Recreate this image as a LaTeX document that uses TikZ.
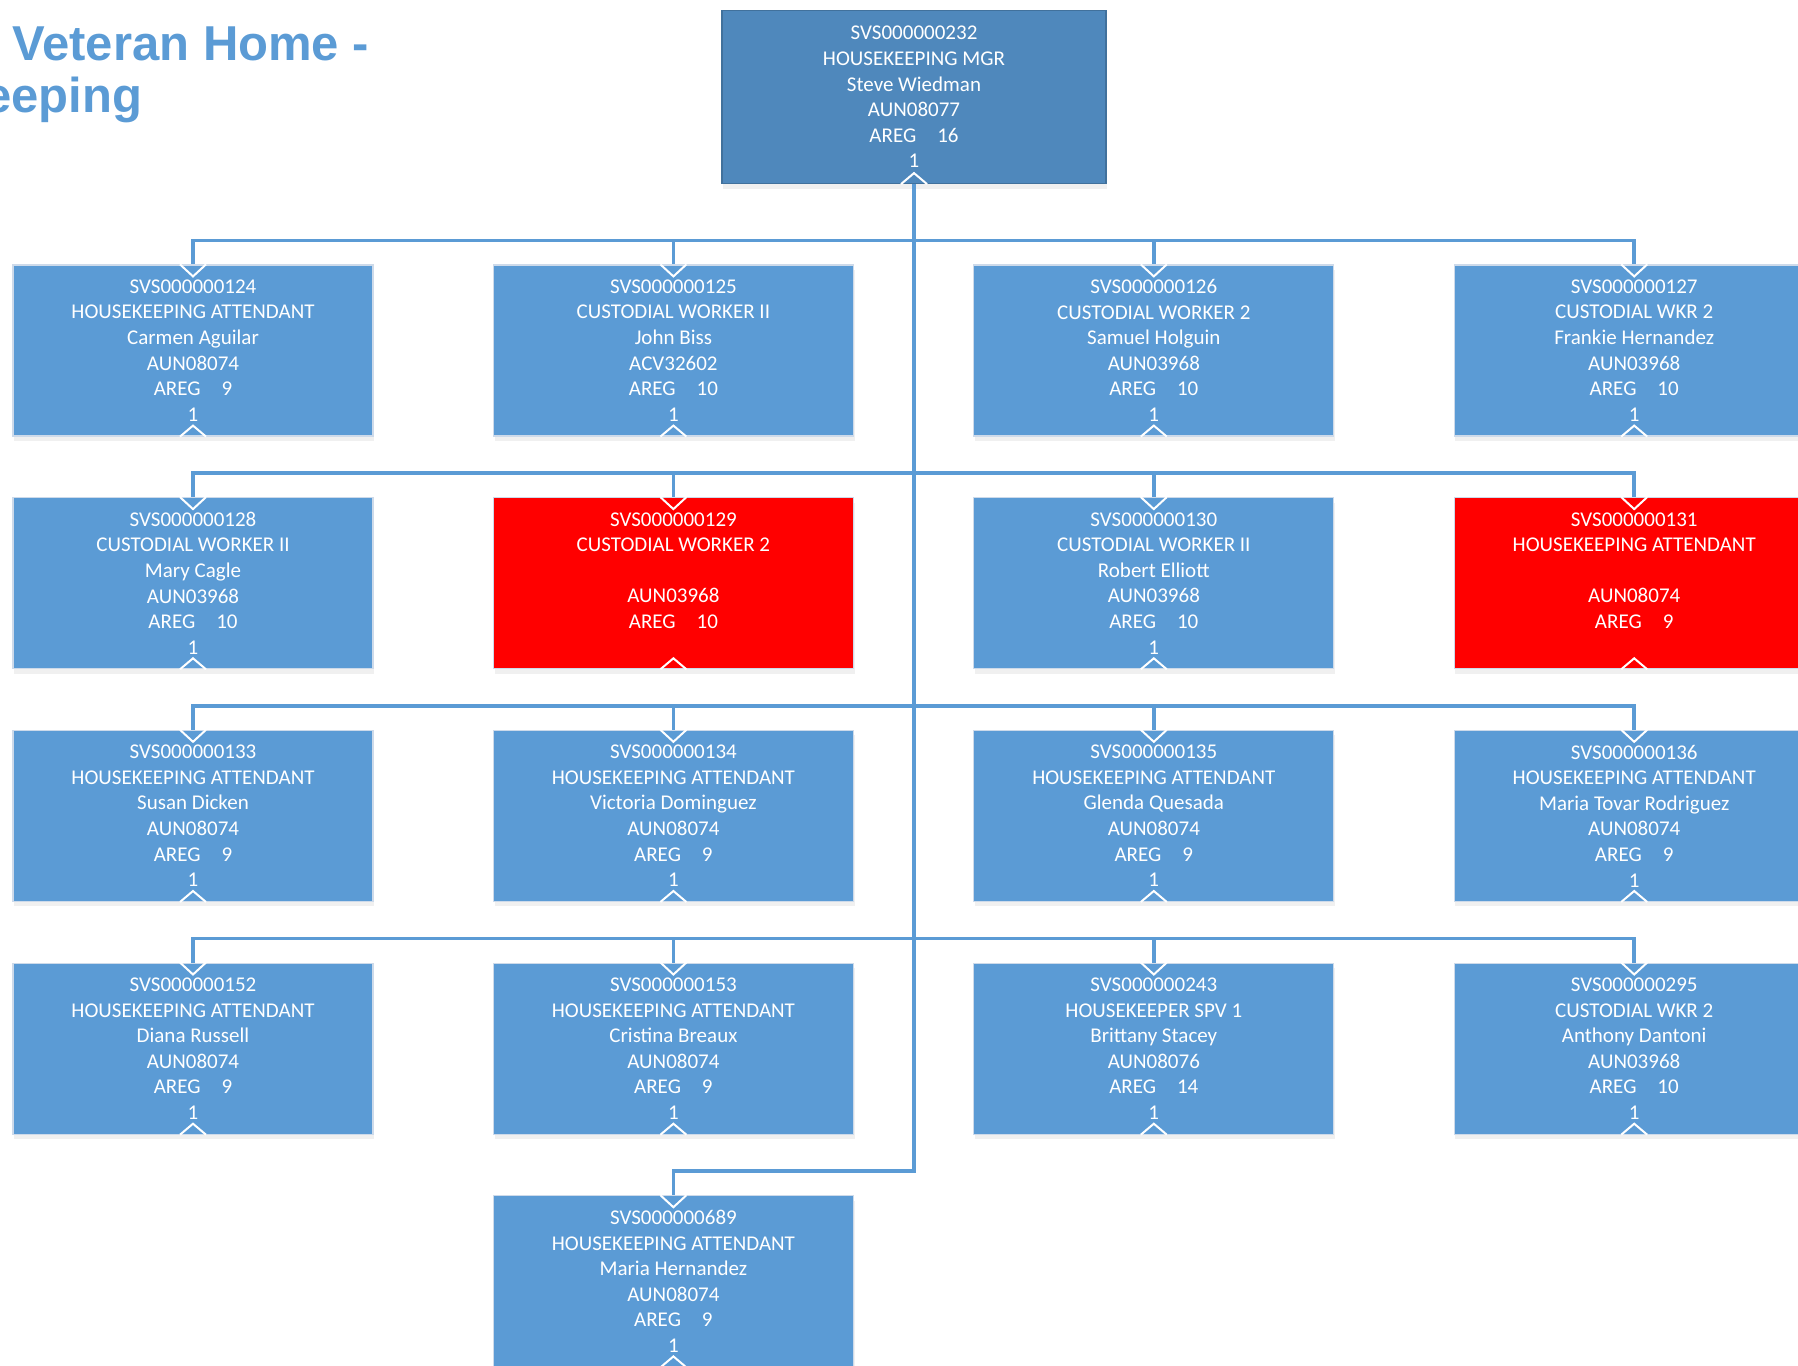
\documentclass[tikz,border=0pt]{standalone}
\usepackage{fontspec}
\setmainfont{Carlito}
\newfontfamily\titlefont{Liberation Sans}
\usepackage{xcolor}
\usetikzlibrary{positioning,calc,shadows}

\definecolor{boxblue}{RGB}{91,155,213}
\definecolor{mgrblue}{RGB}{79,136,188}
\definecolor{mgredge}{RGB}{65,113,156}
\definecolor{boxedge}{RGB}{205,218,234}
\definecolor{vacantred}{RGB}{255,0,0}

\tikzset{
  post/.style={rectangle, fill=boxblue, draw=boxedge, line width=0.6pt,
    minimum width=180pt, minimum height=85.5pt, inner sep=0pt,
    align=center, text=white, font=\fontsize{10.5}{12.8}\selectfont,
    drop shadow={shadow xshift=0.6pt,shadow yshift=-2.5pt,opacity=0.12,fill=black!50}},
  vacant/.style={post, fill=vacantred},
  manager/.style={post, fill=mgrblue, draw=mgredge, minimum width=192pt, minimum height=86.5pt},
  heading/.style={anchor=base west, inner sep=0pt, text=boxblue,
    font=\titlefont\bfseries\fontsize{24.5}{25}\selectfont},
  link/.style={draw=boxblue, line width=1.75pt},
  notch/.style={draw=white, line width=1pt}
}
\newcommand{\areg}[1]{AREG\hspace{1em}#1}

\begin{document}
\begin{tikzpicture}[x=0.5pt,y=-0.5pt,node distance=116.35pt and 240.2pt,on grid]
  \useasboundingbox (0,0) rectangle (1798,1365);
  % title
  \node[heading] (title1) at (12,60) {Veteran Home -};
  \node[heading] (title2) at (-16,112) {eeping};
  % manager
  \node[manager] (mgr) at (914,97) {SVS000000232\\HOUSEKEEPING MGR\\Steve Wiedman\\AUN08077\\\areg{16}\\1};
  % row 1
  \node[post] (c11) at (193,350.5) {SVS000000124\\HOUSEKEEPING ATTENDANT\\Carmen Aguilar\\AUN08074\\\areg{9}\\1};
  \node[post] (c12) [right=of c11] {SVS000000125\\CUSTODIAL WORKER II\\John Biss\\ACV32602\\\areg{10}\\1};
  \node[post] (c13) [right=of c12] {SVS000000126\\CUSTODIAL WORKER 2\\Samuel Holguin\\AUN03968\\\areg{10}\\1};
  \node[post] (c14) [right=of c13] {SVS000000127\\CUSTODIAL WKR 2\\Frankie Hernandez\\AUN03968\\\areg{10}\\1};
  % row 2
  \node[post] (c21) [below=of c11] {SVS000000128\\CUSTODIAL WORKER II\\Mary Cagle\\AUN03968\\\areg{10}\\1};
  \node[vacant] (c22) [right=of c21] {SVS000000129\\CUSTODIAL WORKER 2\\~\\AUN03968\\\areg{10}\\~};
  \node[post] (c23) [right=of c22] {SVS000000130\\CUSTODIAL WORKER II\\Robert Elliott\\AUN03968\\\areg{10}\\1};
  \node[vacant] (c24) [right=of c23] {SVS000000131\\HOUSEKEEPING ATTENDANT\\~\\AUN08074\\\areg{9}\\~};
  % row 3
  \node[post] (c31) [below=of c21] {SVS000000133\\HOUSEKEEPING ATTENDANT\\Susan Dicken\\AUN08074\\\areg{9}\\1};
  \node[post] (c32) [right=of c31] {SVS000000134\\HOUSEKEEPING ATTENDANT\\Victoria Dominguez\\AUN08074\\\areg{9}\\1};
  \node[post] (c33) [right=of c32] {SVS000000135\\HOUSEKEEPING ATTENDANT\\Glenda Quesada\\AUN08074\\\areg{9}\\1};
  \node[post] (c34) [right=of c33] {SVS000000136\\HOUSEKEEPING ATTENDANT\\Maria Tovar Rodriguez\\AUN08074\\\areg{9}\\1};
  % row 4
  \node[post] (c41) [below=of c31] {SVS000000152\\HOUSEKEEPING ATTENDANT\\Diana Russell\\AUN08074\\\areg{9}\\1};
  \node[post] (c42) [right=of c41] {SVS000000153\\HOUSEKEEPING ATTENDANT\\Cristina Breaux\\AUN08074\\\areg{9}\\1};
  \node[post] (c43) [right=of c42] {SVS000000243\\HOUSEKEEPER SPV 1\\Brittany Stacey\\AUN08076\\\areg{14}\\1};
  \node[post] (c44) [right=of c43] {SVS000000295\\CUSTODIAL WKR 2\\Anthony Dantoni\\AUN03968\\\areg{10}\\1};
  % row 5
  \node[post] (c52) [below=of c42] {SVS000000689\\HOUSEKEEPING ATTENDANT\\Maria Hernandez\\AUN08074\\\areg{9}\\1};

  % bus levels
  \foreach \r in {1,...,4}
    \coordinate (bus\r) at ($(mgr.south |- c\r1.north)+(0,-24)$);
  \coordinate (bus5) at ($(mgr.south |- c52.north)+(0,-24)$);

  % connectors
  \foreach \r in {1,...,4}
    \foreach \c in {1,...,4}
      \draw[link] (mgr.south) -- (bus\r) -| (c\r\c.north);
  \draw[link] (mgr.south) -- (bus5) -| (c52.north);

  % connection marks
  \foreach \n in {c11,c12,c13,c14,c21,c22,c23,c24,c31,c32,c33,c34,c41,c42,c43,c44,c52}
    \draw[notch] ($(\n.north)+(-13,0)$) -- ($(\n.north)+(0,12)$) -- ($(\n.north)+(13,0)$);
  \foreach \n in {mgr,c11,c12,c13,c14,c21,c22,c23,c24,c31,c32,c33,c34,c41,c42,c43,c44,c52}
    \draw[notch] ($(\n.south)+(-13,0)$) -- ($(\n.south)+(0,-11)$) -- ($(\n.south)+(13,0)$);
\end{tikzpicture}
\end{document}
